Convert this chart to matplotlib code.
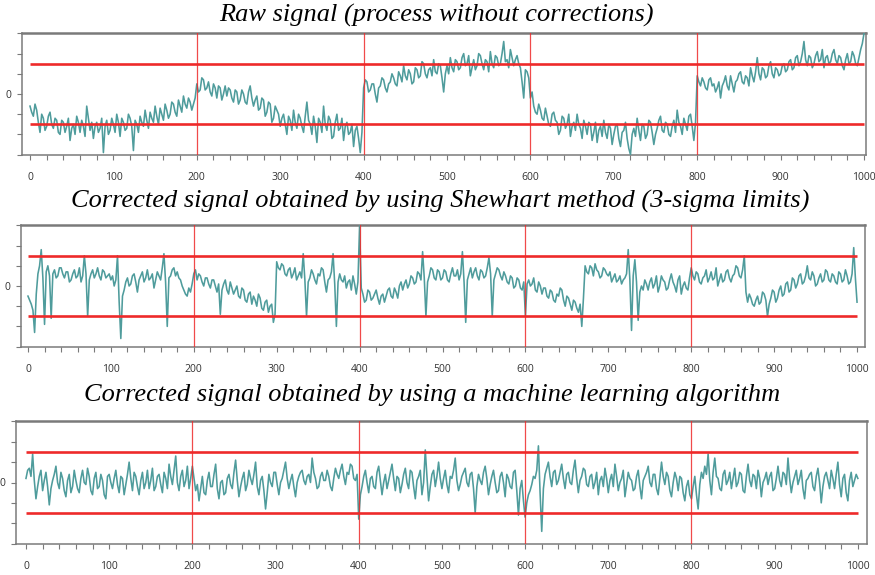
import numpy as np
import matplotlib
matplotlib.use("Agg")
import matplotlib.pyplot as plt

# every 2nd sample of the 1000-sample runs, one row per 100 samples
raw_signal = [
    -0.6, -0.9, -1.1, -0.5, -0.8, -1.4, -1.9, -1.0, -1.2, -1.8, -1.6, -1.1, -0.9, -1.5, -1.7, -1.2, -1.3, -1.9, -2.0, -1.3, -1.4, -1.9, -1.6, -1.2, -2.3, -1.7, -1.5, -2.0, -1.1, -1.4, -1.9, -1.3, -1.6, -2.1, -0.6, -1.2, -1.8, -1.4, -2.2, -1.6, -1.4, -1.9, -1.7, -1.2, -2.9, -1.6, -1.3, -2.0, -1.8, -1.2,
    -1.5, -1.9, -1.0, -1.4, -2.1, -1.2, -1.4, -1.8, -1.7, -1.0, -1.2, -1.6, -2.8, -1.3, -1.5, -1.9, -1.1, -1.4, -1.6, -0.8, -1.3, -1.7, -0.9, -1.2, -1.4, -0.6, -1.1, -1.5, -0.7, -1.0, -1.3, -0.5, -0.8, -1.2, -1.0, -0.4, -0.5, -0.9, -1.1, -0.3, -0.6, -0.9, -0.1, -0.5, -0.7, -0.2, -0.4, -0.8, -0.5, -0.2,
    0.5, 0.1, 0.2, 0.8, 0.7, 0.2, 0.3, 0.6, 0.1, -0.1, 0.5, 0.3, -0.2, 0.4, 0.3, -0.3, 0.0, 0.4, -0.1, 0.3, 0.2, -0.2, -0.4, 0.2, 0.1, -0.5, -0.3, 0.2, 0.0, -0.4, -0.5, 0.1, 0.4, -0.2, -0.6, -0.3, -0.1, -0.8, -0.7, -0.2, -0.3, -1.1, -0.9, -0.4, -0.5, -1.4, -1.2, -0.6, -0.8, -1.0,
    -1.6, -1.2, -1.0, -1.5, -2.0, -1.1, -1.3, -1.8, -0.8, -1.4, -1.7, -1.0, -1.2, -1.6, -1.9, -1.1, -0.4, -1.3, -1.5, -2.0, -1.1, -1.6, -2.4, -1.2, -1.4, -1.9, -0.6, -1.5, -1.8, -1.1, -1.3, -2.2, -2.1, -1.4, -1.0, -1.8, -1.7, -1.2, -2.3, -1.6, -1.4, -2.0, -1.9, -1.5, -2.6, -1.8, -1.6, -2.2, -2.9, -1.9,
    0.3, 0.7, 0.6, 0.1, 0.2, 0.5, 0.5, 0.0, -0.4, 0.3, 0.4, 0.8, 0.7, 0.3, 0.1, 0.5, 0.6, 1.0, 0.8, 0.5, 0.4, 1.1, 0.9, 0.6, 1.4, 0.9, 0.7, 1.2, 1.0, 0.5, 0.6, 1.3, 1.2, 0.8, 0.9, 1.6, 1.5, 1.0, 0.8, 1.2, 1.3, 0.9, 1.7, 1.1, 1.0, 1.5, 1.4, 0.8, 0.1, 1.0,
    1.4, 1.0, 1.8, 1.3, 1.1, 1.7, 1.6, 1.2, 1.3, 1.8, 2.0, 1.4, 1.5, 1.9, 0.9, 1.3, 1.7, 1.2, 1.4, 2.0, 1.9, 1.5, 1.2, 1.7, 1.6, 1.1, 2.1, 1.5, 1.3, 1.9, 1.8, 1.4, 1.5, 2.0, 2.6, 1.6, 1.7, 1.3, 2.2, 1.8, 1.4, 1.7, 1.9, 1.5, 1.3, 0.6, -0.2, 1.2, 1.1, 0.8,
    -0.2, 0.1, -0.6, -0.9, -1.0, -0.5, -0.8, -1.2, -1.3, -0.7, -1.1, -1.5, -1.6, -1.0, -0.9, -1.3, -1.4, -2.0, -1.8, -1.1, -1.2, -1.7, -1.5, -1.0, -2.1, -1.6, -1.4, -1.8, -1.0, -1.5, -1.7, -2.2, -1.3, -1.6, -2.0, -1.4, -1.5, -2.3, -1.9, -1.4, -2.4, -1.8, -1.6, -2.1, -1.3, -1.9, -2.2, -1.5, -1.7, -2.5,
    -2.0, -1.6, -1.5, -2.2, -2.6, -1.9, -1.8, -1.4, -2.2, -2.7, -3.0, -2.0, -1.7, -2.1, -1.2, -1.8, -2.3, -1.5, -1.6, -2.2, -2.0, -1.3, -1.4, -1.9, -2.5, -2.0, -1.7, -1.3, -1.1, -1.8, -1.9, -1.4, -1.5, -2.0, -2.1, -1.6, -1.3, -1.9, -0.8, -1.4, -1.6, -2.0, -1.2, -1.5, -1.8, -1.1, -1.0, -1.6, -2.3, -1.4,
    0.9, 0.6, 0.4, 0.8, 0.6, 0.3, 0.2, 0.7, 0.8, 0.4, 0.5, 0.1, 0.3, 0.6, -0.2, 0.4, 0.6, 0.9, 0.4, 0.2, 0.9, 0.5, 0.1, 0.6, 0.7, 1.0, 1.1, 0.6, 0.5, 0.9, 0.8, 0.4, 1.3, 0.9, 0.6, 1.1, 1.8, 1.0, 0.7, 1.3, 1.2, 0.8, 0.9, 1.4, 1.6, 1.0, 0.8, 1.3, 1.2, 0.9,
    1.0, 1.4, 1.5, 1.1, 1.2, 1.6, 1.7, 1.2, 1.3, 1.8, 1.9, 1.4, 1.6, 2.0, 2.6, 1.7, 1.4, 1.9, 1.8, 1.3, 1.5, 1.9, 2.1, 1.6, 1.7, 2.2, 1.3, 1.8, 1.9, 1.5, 1.6, 2.0, 2.2, 1.7, 1.5, 1.9, 1.8, 1.4, 1.2, 1.7, 2.0, 1.5, 1.6, 2.1, 1.9, 1.5, 1.4, 1.8, 2.2, 2.5,
    3.0,
]

shewhart_signal = [
    -0.5, -0.7, -0.9, -1.2, -2.3, -0.4, 0.6, 1.0, 1.8, 0.4, -1.9, 0.7, 1.0, 0.5, -1.6, 0.6, 0.8, 0.4, 0.5, 0.9, 0.9, 0.6, 0.4, 0.7, 0.7, 0.2, 0.3, 0.6, 0.8, 0.4, 0.5, 0.9, 0.2, 0.5, 1.5, 0.6, -1.5, 0.3, 0.6, 0.8, 0.4, 0.6, 0.9, 0.5, 0.3, 0.8, 0.7, 0.4, 0.5, 0.6,
    0.3, 0.5, 0.0, 0.3, 1.5, -0.8, -2.6, -0.5, -0.2, 0.2, 0.4, 0.0, 0.1, 0.5, 0.6, 0.2, -0.3, 0.3, 0.5, 0.7, 0.2, 0.4, 0.8, 0.3, 0.4, 0.6, -0.1, 0.3, 0.7, 0.5, 0.3, 0.9, 1.6, 0.2, -2.0, 0.4, 0.5, 0.8, 0.9, 0.5, 0.7, 0.4, 0.3, 0.0, -0.2, -0.4, -0.5, -0.1, -0.3, 0.1,
    0.6, 0.8, 0.3, 0.6, 0.5, 0.2, 0.0, 0.4, 0.4, 0.1, -0.1, 0.3, 0.3, 0.0, -0.3, 0.1, -1.4, -0.2, 0.1, 0.3, -0.2, -0.4, 0.2, -0.1, -0.4, -0.2, 0.0, -0.5, -0.6, -0.1, -0.2, -0.7, -0.8, -0.4, -0.3, -0.9, -0.5, -0.7, -1.0, -0.4, -0.6, -1.1, -1.2, -0.8, -0.7, -1.3, -1.0, -0.9, -1.8, -1.4,
    1.2, 0.9, 0.8, 1.1, 1.0, 0.6, 0.5, 0.8, 0.9, 0.4, 0.6, 0.9, 0.3, 0.5, 0.7, 0.4, 1.6, 0.3, -1.5, 0.2, 0.4, 0.8, 0.6, 0.3, 0.1, 0.6, 0.5, 0.9, 0.8, 0.2, -0.3, 0.3, 0.4, 0.7, 1.6, 0.1, -2.0, 0.2, 0.6, 0.3, 0.2, 0.5, -0.1, 0.2, 0.3, -0.2, 0.5, 0.1, -0.4, 0.2,
    3.0, -0.1, -0.4, -0.8, -0.7, -0.2, -0.3, -0.7, -0.6, -0.4, -0.2, -0.6, -0.9, -0.5, -0.4, -0.8, -0.5, -0.2, -0.1, -0.5, -0.6, -0.1, -0.3, -0.6, 0.0, 0.2, -0.2, 0.1, 0.3, -0.1, 0.1, 0.5, 0.4, 0.1, 0.2, 0.7, 0.6, 0.3, 1.7, 0.4, -1.5, 0.2, 0.5, 0.9, 0.8, 0.4, 0.3, 0.8, 0.7, 0.3,
    0.4, 0.8, 0.7, 0.3, 0.2, 0.6, 0.9, 0.5, 0.5, 0.8, 0.3, 0.6, 1.7, 0.2, -1.8, 0.3, 0.6, 0.9, 0.4, 0.7, 0.9, 0.5, 0.3, 0.8, 0.7, 0.4, 0.5, 0.9, 1.4, 0.6, -1.5, 0.3, 0.6, 0.9, 0.8, 0.5, 0.3, 0.7, 0.5, 0.2, 0.1, 0.5, 0.4, -0.1, 0.0, 0.4, 0.3, -0.1, -0.2, 0.2,
    -1.5, 0.1, 0.3, 0.0, 0.1, 0.4, -0.2, -0.3, 0.2, 0.0, -0.4, -0.1, -0.1, -0.5, -0.6, -0.2, -0.3, -0.7, -0.8, -0.4, -0.5, -0.1, -0.2, -0.7, -1.0, -0.5, -0.6, -0.9, -1.2, -0.7, -0.8, -1.1, -1.3, -0.9, -2.0, -0.6, 1.0, 0.7, 0.6, 1.0, 0.9, 0.5, 1.1, 0.8, 0.7, 0.4, 0.5, 0.9, 0.8, 0.6,
    0.5, 0.7, 0.2, 0.4, 0.6, 0.2, 0.3, 0.5, 0.1, 0.3, 0.4, 0.6, 1.8, 0.3, -2.2, 0.5, 1.3, 0.2, -1.7, -0.3, 0.0, -0.2, 0.3, 0.1, -0.2, 0.2, 0.4, -0.1, 0.1, 0.5, -0.3, 0.0, 0.5, 0.3, 0.2, -0.2, -0.1, 0.3, 0.6, 0.2, 0.0, -0.3, 0.3, 0.5, -0.4, 0.0, 0.2, -0.1, -0.2, 0.4,
    0.9, 0.5, 0.3, 0.7, 0.6, 0.2, 0.1, 0.4, 0.5, 0.8, 0.2, 0.4, 0.7, 0.3, 0.4, 0.9, 0.0, 0.3, 0.6, 0.2, 0.3, 0.7, 0.8, 0.4, 0.2, 0.5, 0.6, 1.0, 0.9, 0.5, 0.4, 0.8, 1.5, -0.3, -0.8, -0.4, -0.6, -0.9, -1.0, -0.7, -0.5, -0.9, -0.8, -0.3, -0.4, -0.7, -1.5, -0.9, -0.6, -0.2,
    -0.3, -0.8, -0.6, -0.2, 0.0, -0.5, -0.4, 0.1, 0.2, -0.3, -0.2, 0.4, 0.3, -0.1, 0.1, 0.5, 0.6, 0.1, 0.2, 0.5, 1.0, 0.4, 0.3, 0.7, 0.5, 0.0, 0.1, 0.4, 0.6, 0.2, 0.3, 0.8, 0.7, 0.3, 0.2, 0.6, 0.5, 0.2, 0.1, 0.7, 0.6, 0.2, 0.3, 0.8, 0.5, 0.1, 0.2, 0.6, 1.9, 0.4,
    -0.8,
]

ml_signal = [
    0.2, 0.6, 0.7, 0.3, 1.4, 0.1, -0.8, -0.2, 0.3, 0.6, -0.4, 0.1, 0.5, -0.2, -1.1, -0.3, 0.1, 0.4, 0.8, 0.0, -0.3, 0.5, 0.2, -0.4, -0.7, 0.1, 0.4, -0.5, -0.2, 0.6, 0.1, -0.3, -0.5, 0.2, 0.6, 0.0, -0.1, 0.7, 0.3, -0.4, -0.6, 0.2, 0.5, -0.3, -0.2, 0.4, 0.1, -0.6, -0.8, 0.3,
    0.4, 0.0, -0.3, 0.2, 0.6, -0.1, -0.5, 0.3, 0.2, -0.6, -0.1, 0.4, 1.0, 0.2, -0.4, 0.5, 0.3, -0.2, -0.6, 0.1, 0.5, -0.3, 0.0, 0.6, -0.3, 0.1, 0.7, -0.4, -0.2, 0.3, 0.4, -0.1, -0.5, 0.5, 0.2, -0.3, 0.9, 0.3, -0.1, 0.6, 1.3, 0.0, -0.4, 0.3, 0.6, -0.2, 0.1, 0.8, -0.3, 0.2,
    0.8, 0.2, -0.4, -0.1, -0.9, -0.3, 0.3, -0.5, -0.6, 0.1, 0.5, -0.2, -0.2, 0.4, 0.9, -0.3, -0.8, 0.0, 0.1, -0.6, -0.5, 0.2, 0.4, -0.1, -0.3, 0.5, 1.1, 0.1, -0.7, -0.2, 0.2, 0.5, -0.4, -0.1, 0.6, 0.2, -0.1, 0.4, 1.0, -0.2, -0.6, 0.1, 0.3, -0.4, -1.3, -0.5, 0.4, 0.0, -0.2, 0.5,
    0.5, -0.1, -0.6, 0.0, 0.2, 0.6, 1.0, 0.2, -0.3, 0.1, 0.4, -0.2, -0.7, 0.0, 0.3, 0.5, 0.6, 0.1, -0.1, 0.3, 0.4, 0.0, 1.2, 0.5, 0.2, -0.3, -0.2, 0.3, 0.5, 0.1, 0.1, 0.6, 0.3, -0.2, -0.4, 0.2, 0.7, 0.4, 0.2, 0.6, 0.9, 0.3, -0.1, 0.5, 0.4, 0.9, 0.8, 0.2, 0.1, 0.4,
    -1.8, -0.6, -0.2, 0.3, 0.6, 0.0, -0.5, 0.2, 0.3, -0.2, -0.3, 0.5, 0.8, 0.1, -0.6, 0.0, 0.4, -0.3, 0.1, 0.5, 0.9, 0.2, -0.4, 0.3, 0.2, -0.5, -0.1, 0.4, 0.7, 0.0, -0.3, 0.6, 0.5, -0.2, -0.8, 0.1, 0.3, 0.6, -0.6, 0.0, 1.6, 0.3, -0.9, -0.2, 0.4, 0.6, -0.2, 0.3, 1.0, 0.2,
    -0.3, 0.2, 0.6, -0.1, -0.5, 0.3, 0.2, 0.6, 1.2, 0.1, -0.4, -0.1, 0.3, 0.5, 0.7, 0.0, -0.2, 0.4, 0.5, -0.3, -1.5, -0.2, 0.4, 0.1, -0.1, 0.5, 0.8, 0.2, -0.6, -0.1, 0.3, 0.6, 0.0, -0.5, -0.4, 0.3, 0.5, 0.0, -0.7, 0.4, 0.2, -0.2, -0.3, 0.5, 0.6, -0.4, -1.6, -0.3, 0.1, -0.9,
    -1.7, -1.0, -0.6, -0.4, -0.1, 0.3, 0.2, 0.6, 1.8, -0.5, -2.4, -0.3, 0.4, 0.7, 1.0, 0.3, -0.2, 0.5, 0.6, -0.1, 0.1, 0.5, 0.9, 0.2, -0.3, 0.4, 0.5, 0.0, -0.1, 0.6, 1.1, 0.2, -0.5, 0.1, 0.3, 0.7, 0.6, -0.1, -0.2, 0.3, 0.4, -0.3, 0.0, 0.5, -0.6, 0.1, 0.3, -0.2, 0.7, 0.2,
    -0.5, 0.1, 0.4, -0.2, 0.9, 0.3, -0.4, 0.0, 0.2, 0.6, -0.7, -0.1, 0.5, 0.2, 0.1, -0.4, -0.3, 0.3, 0.6, -0.2, -0.8, 0.1, 0.3, 0.5, 0.8, 0.0, -0.2, 0.4, 0.4, -0.3, -0.6, 0.2, 1.0, 0.3, -0.1, 0.5, 0.3, -0.4, -0.7, 0.0, 0.5, 0.2, -0.4, 0.3, 0.2, -0.5, -0.9, -0.2, 0.1, -0.6,
    -0.8, -0.2, 0.3, -0.6, -1.3, -0.1, 0.5, 0.2, 0.8, 0.4, 1.4, 0.1, -0.6, 0.5, 1.2, 0.3, 0.2, -0.3, -0.4, 0.4, 0.6, -0.1, 0.1, 0.5, -0.3, 0.2, 0.7, -0.2, 0.0, 0.5, 0.4, -0.4, -0.5, 0.3, 0.9, 0.1, -0.2, 0.4, 0.3, -0.3, 0.6, 0.2, -0.7, 0.0, 0.2, 0.5, -0.1, 0.3, 0.5, -0.4,
    -0.3, 0.2, 0.8, 0.1, -0.2, 0.5, 0.4, -0.1, 1.2, 0.2, -0.5, 0.0, 0.3, 0.6, -0.1, 0.2, 0.6, -0.3, -0.8, 0.1, 0.2, 0.4, 0.5, -0.2, -0.4, 0.3, 0.7, 0.0, -1.0, -0.2, 0.3, 0.5, 0.1, -0.3, 0.6, 0.2, -0.3, 0.4, 1.0, -0.1, -0.7, 0.2, 0.4, -0.5, -0.9, 0.1, 0.5, -0.2, 0.1, 0.4,
    0.2,
]

titles = [
    "Raw signal (process without corrections)",
    "Corrected signal obtained by using Shewhart method (3-sigma limits)",
    "Corrected signal obtained by using a machine learning algorithm",
]
control_limit = 1.5
segment_marks = [200, 400, 600, 800]
x_ticks = [0, 100, 200, 300, 400, 500, 600, 700, 800, 900, 1000]

line_color = "#4f9c9c"
limit_color = "#ee2a2a"
axis_color = "#7a7a7a"

fig = plt.figure(figsize=(8.75, 5.75), dpi=100)
W, H = 875.0, 575.0

# axes boxes in pixels: left, top, right, bottom, x-limits, title centre x and baseline y
panels = [
    (22, 33, 866, 155, (-9.6, 1002.4), 436, 22),
    (21, 225, 865, 347, (-8.4, 1009.6), 440, 208),
    (16, 421, 867, 544, (-12.0, 1011.0), 432, 401),
]
signals = [raw_signal, shewhart_signal, ml_signal]

for (l, t, r, b, xl, tx, ty), sig, title in zip(panels, signals, titles):
    ax = fig.add_axes([l / W, 1 - b / H, (r - l) / W, (b - t) / H])
    samples = np.linspace(0, 1000, len(sig))
    ax.plot(samples, sig, color=line_color, lw=1.15, zorder=3)
    ax.hlines([control_limit, -control_limit], 0, 1000, color=limit_color, lw=1.9, zorder=4)
    for m in segment_marks:
        ax.axvline(m, color=limit_color, lw=0.9, alpha=0.85, zorder=4)
    ax.set_xlim(*xl)
    ax.set_ylim(-3.02, 3.02)
    ax.set_xticks(x_ticks)
    ax.set_xticks(np.arange(0, 1001, 20), minor=True)
    ax.set_yticks([-3, -2, -1, 0, 1, 2, 3])
    ax.set_yticklabels(["", "", "", "0", "", "", ""])
    ax.tick_params(axis="both", which="both", direction="out", length=3.5,
                   width=0.8, color=axis_color, labelsize=7.5, labelcolor="#333333", pad=9)
    ax.tick_params(axis="y", pad=4)
    for tl in ax.get_xticklabels() + ax.get_yticklabels():
        tl.set_fontfamily("Open Sans")
    for s in ax.spines.values():
        s.set_color(axis_color)
        s.set_linewidth(1.1)
    ax.spines["top"].set_linewidth(1.8)
    fig.text(tx / W, 1 - ty / H, title, ha="center", va="baseline",
             fontsize=19, fontstyle="italic", family="Liberation Serif")

fig.savefig("out.png", dpi=100)
